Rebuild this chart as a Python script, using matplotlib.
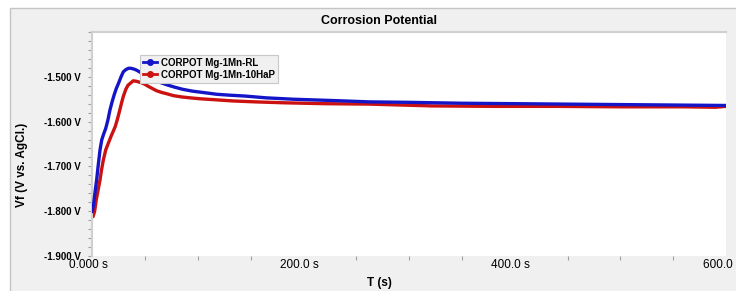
import matplotlib
matplotlib.use('Agg')
import matplotlib.pyplot as plt
import matplotlib.transforms as mtrans
from matplotlib.patches import Rectangle
from matplotlib.lines import Line2D
from matplotlib.ticker import MultipleLocator, FuncFormatter

plt.rcParams['font.family'] = ['Liberation Sans', 'DejaVu Sans']

# CORPOT Mg-1Mn-RL (blue)
t_rl = [0, 1.5, 3, 4.4, 6, 7.6, 9.2, 11, 13, 15, 17, 19, 21, 23, 25, 27.5, 29.6, 32, 34.5,
        37, 40, 42, 45, 48, 51, 55, 60, 65, 71, 78, 86, 95, 105, 118, 130, 145,
        165, 190, 228, 263, 300, 350, 401, 450, 500, 550, 600]
v_rl = [-1.801, -1.785, -1.755, -1.730, -1.695, -1.663, -1.641, -1.628, -1.615, -1.597, -1.574,
        -1.556, -1.540, -1.526, -1.515, -1.500, -1.489, -1.484, -1.481,
        -1.481, -1.483, -1.485, -1.489, -1.494, -1.498, -1.503, -1.508, -1.513, -1.518, -1.523,
        -1.528, -1.532, -1.535, -1.539, -1.541, -1.543,
        -1.547, -1.550, -1.553, -1.556, -1.557, -1.559, -1.560, -1.561, -1.562, -1.563, -1.564]

# CORPOT Mg-1Mn-10HaP (red)
t_hap = [0, 1, 2.5, 4, 6, 7.6, 9, 10.7, 13, 15.5, 18, 20, 22, 24, 26, 28, 29.6, 32, 34,
         36, 39, 42, 45, 48.6, 51, 53, 57, 61, 66, 71, 77, 85, 93, 102, 115, 134,
         155, 181, 220, 263, 322, 380, 440, 500, 560, 590, 600]
v_hap = [-1.810, -1.812, -1.800, -1.775, -1.750, -1.730, -1.708, -1.686, -1.663, -1.648, -1.633,
         -1.622, -1.611, -1.595, -1.577, -1.558, -1.544, -1.528, -1.519,
         -1.515, -1.509, -1.510, -1.512, -1.515, -1.518, -1.521, -1.526, -1.531, -1.535, -1.538,
         -1.542, -1.545, -1.547, -1.549, -1.551, -1.554,
         -1.556, -1.558, -1.560, -1.561, -1.565, -1.566, -1.566, -1.567, -1.567, -1.568, -1.566]

labels = ['CORPOT Mg-1Mn-RL', 'CORPOT Mg-1Mn-10HaP']
colors = ['#1515c8', '#cc1111']

fig = plt.figure(figsize=(7.36, 2.91), dpi=100)
fig.patch.set_facecolor('white')
# gray panel behind the chart
fig.patches.append(Rectangle((10 / 736, -0.01), 1.0, 1 - 8 / 291 + 0.01,
                             transform=fig.transFigure, facecolor='#f0f0f0',
                             edgecolor='#c4c4c4', linewidth=1.0, zorder=-5))

ax = fig.add_axes([92 / 736, 1 - 256 / 291, (726 - 92) / 736, (256 - 32) / 291])
ax.set_zorder(1)
ax.set_facecolor('white')

ax.plot(t_rl, v_rl, color=colors[0], lw=2.4, solid_capstyle='round', zorder=3)
ax.plot(t_hap, v_hap, color=colors[1], lw=2.4, solid_capstyle='round', zorder=2)

ax.set_xlim(0, 600)
ax.set_ylim(-1.9, -1.4)

ax.xaxis.set_major_locator(MultipleLocator(200))
ax.xaxis.set_minor_locator(MultipleLocator(50))
ax.yaxis.set_major_locator(MultipleLocator(0.1))
ax.yaxis.set_minor_locator(MultipleLocator(0.02))
ax.xaxis.set_major_formatter(FuncFormatter(lambda v, p: '0.000 s' if v == 0 else f'{v:.1f} s'))
ax.yaxis.set_major_formatter(FuncFormatter(lambda v, p: '' if v > -1.45 else f'{v:.3f} V'))

ax.tick_params(axis='both', which='both', colors='#a0a0a0', length=3, width=0.8)
ax.tick_params(axis='x', which='major', length=0, labelsize=8.5, labelcolor='black', pad=2)
ax.tick_params(axis='y', which='major', length=3, labelsize=7, labelcolor='black', pad=5)
for lab in ax.get_yticklabels():
    lab.set_fontweight('bold')
shift = mtrans.ScaledTranslation(-4 / 100, 0, fig.dpi_scale_trans)
for lab in ax.get_xticklabels():
    lab.set_transform(lab.get_transform() + shift)

for s in ['right', 'bottom']:
    ax.spines[s].set_visible(False)
for s in ['top', 'left']:
    ax.spines[s].set_color('#d0d0d0')
    ax.spines[s].set_linewidth(1.5)

fig.text(379 / 736, 1 - 20.5 / 291, 'Corrosion Potential', ha='center', va='center',
         fontsize=9, fontweight='bold')
fig.text(379 / 736, 1 - 283 / 291, 'T (s)', ha='center', va='center',
         fontsize=8.5, fontweight='bold')
fig.text(22 / 736, 1 - 165 / 291, 'Vf (V vs. AgCl.)', ha='center', va='center',
         rotation=90, fontsize=8.5, fontweight='bold')

handles = [Line2D([], [], color=c, lw=2, marker='o', markersize=4) for c in colors]
leg = ax.legend(handles, labels, loc='upper left', bbox_to_anchor=(43 / 634, 1 - 18 / 224),
                frameon=True, fancybox=False, framealpha=1, handlelength=1.5,
                handletextpad=0.35, borderpad=0.3, labelspacing=0.2,
                prop={'size': 7, 'weight': 'bold'})
leg.get_frame().set_facecolor('#f0f0f0')
leg.get_frame().set_edgecolor('#c8c8c8')
leg.get_frame().set_linewidth(0.8)

fig.savefig('out.png', dpi=100)
